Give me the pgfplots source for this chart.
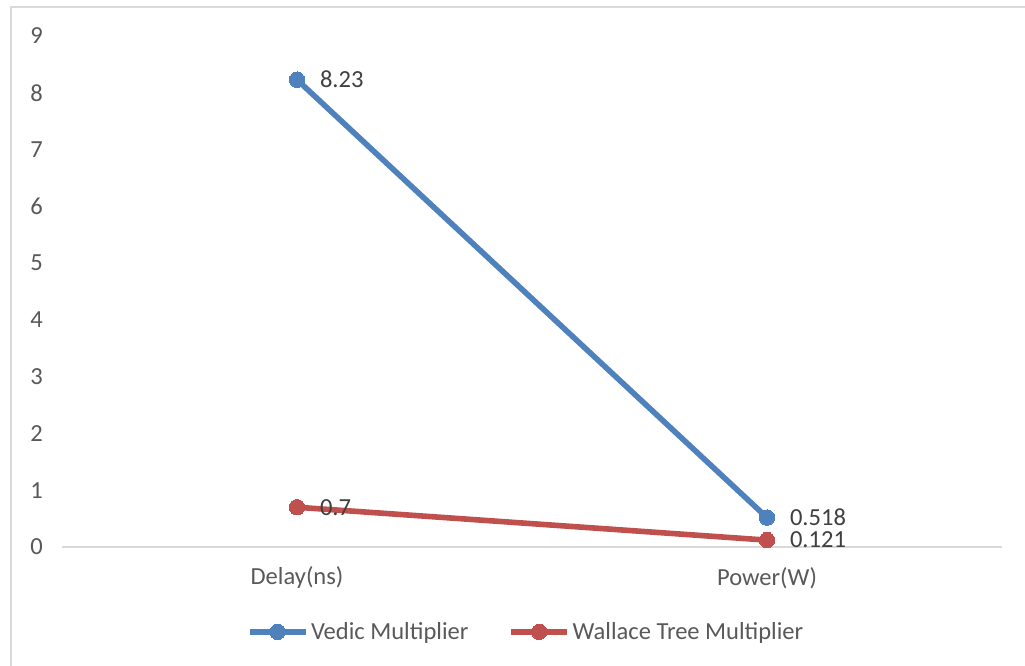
\documentclass[border=0pt]{standalone}
\usepackage{pgfplots}
\pgfplotsset{compat=1.18}
\usepackage{fontspec}
\setmainfont{Carlito}
\definecolor{vblue}{HTML}{4F81BD}
\definecolor{wred}{HTML}{C0504D}
\definecolor{txtgray}{HTML}{595959}
\definecolor{lblgray}{HTML}{404040}
\definecolor{linegray}{HTML}{D9D9D9}
\begin{document}
\begin{tikzpicture}
\useasboundingbox (0,0) rectangle (768.75pt,499.5pt);
\fill[white] (0,0) rectangle (768.75pt,499.5pt);
\draw[linegray, line width=1.2pt] (8.25pt,0) -- (8.25pt,494.25pt) -- (770pt,494.25pt);
\begin{axis}[
  at={(46.5pt,89.25pt)}, anchor=south west,
  scale only axis, width=705pt, height=383.25pt,
  xmin=-0.5, xmax=1.5, ymin=0, ymax=9,
  xtick={0,1}, xticklabels={Delay(ns),Power(W)},
  ytick={0,1,...,9},
  major tick length=0pt,
  axis x line*=bottom, axis y line*=left,
  x axis line style={draw=linegray, line width=0.9pt, -},
  y axis line style={draw=none},
  /pgf/number format/assume math mode=true,
  every tick label/.append style={font=\fontsize{18.4pt}{22pt}\selectfont, text=txtgray, inner sep=0pt},
  yticklabel style={anchor=east, xshift=-14.25pt},
  xticklabel style={anchor=center, yshift=-23.25pt},
  clip=false,
  legend columns=2,
  legend style={at={(0.494,-0.166)}, anchor=center, draw=none, fill=none,
    font=\fontsize{18.4pt}{22pt}\selectfont, text=txtgray,
    /tikz/every even column/.append style={column sep=28pt},
    inner sep=0pt},
  legend image code/.code={\draw[#1, mark repeat=2, mark phase=2] plot coordinates {(0pt,0pt) (21pt,0pt) (42pt,0pt)};},
  legend cell align=left,
  nodes near coords, point meta=explicit symbolic,
  every node near coord/.append style={anchor=west, xshift=17.25pt, yshift=0pt, inner sep=0pt,
    font=\fontsize{18.4pt}{22pt}\selectfont, text=lblgray},
]
\addplot[vblue, line width=4.2pt, mark=*, mark size=5.8pt, mark options={fill=vblue, draw=vblue, line width=0pt}]
  coordinates {(0,8.23) [8.23] (1,0.518) [0.518]};
\addlegendentry{Vedic Multiplier}
\addplot[wred, line width=4.2pt, mark=*, mark size=5.8pt, mark options={fill=wred, draw=wred, line width=0pt}]
  coordinates {(0,0.7) [0.7] (1,0.121) [0.121]};
\addlegendentry{Wallace Tree Multiplier}
\end{axis}
\end{tikzpicture}
\end{document}
